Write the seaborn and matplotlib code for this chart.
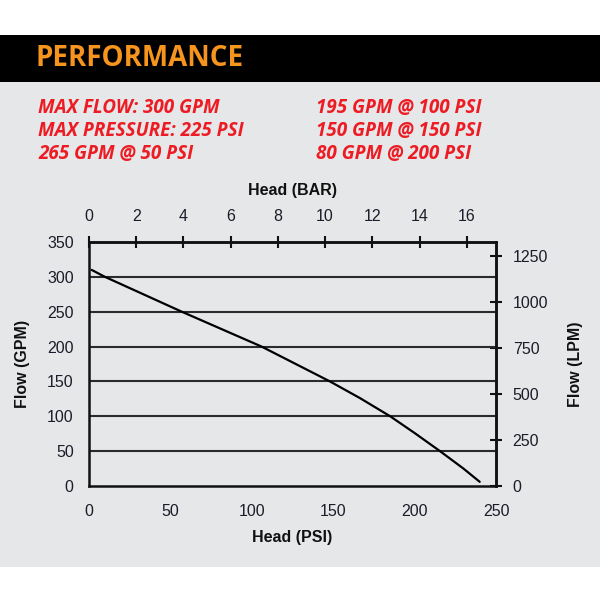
import matplotlib
matplotlib.use("Agg")
import matplotlib.pyplot as plt
import seaborn as sns
import pandas as pd
from matplotlib.patches import Rectangle

# ---- data ----
head_psi = [1.6, 9.8, 57, 106, 148, 166.5, 185, 200, 215.6, 230, 240]
flow_gpm = [310, 300, 250, 200, 150, 126, 100, 76, 50, 25, 6]

psi_ticks = [0, 50, 100, 150, 200, 250]
gpm_ticks = [0, 50, 100, 150, 200, 250, 300, 350]
bar_ticks = [0, 2, 4, 6, 8, 10, 12, 14, 16]
lpm_ticks = [0, 250, 500, 750, 1000, 1250]

title = "PERFORMANCE"
specs_left = ["MAX FLOW: 300 GPM", "MAX PRESSURE: 225 PSI", "265 GPM @ 50 PSI"]
specs_right = ["195 GPM @ 100 PSI", "150 GPM @ 150 PSI", "80 GPM @ 200 PSI"]

PSI_PER_BAR = 14.5038
LPM_PER_GPM = 3.78541

df = pd.DataFrame({"Head (PSI)": head_psi, "Flow (GPM)": flow_gpm})

sns.set_style("white")
plt.rcParams["font.family"] = ["Liberation Sans", "DejaVu Sans"]

fig = plt.figure(figsize=(6, 6), dpi=100)
fig.patch.set_facecolor("white")

W, H = 600.0, 600.0
def fy(y):
    return 1 - y / H

# gray panel and black header band
fig.patches.append(Rectangle((0, fy(567)), 1, fy(82) - fy(567), transform=fig.transFigure,
                             facecolor="#e6e7e8", edgecolor="none", zorder=-10))
fig.patches.append(Rectangle((0, fy(82)), 1, fy(35) - fy(82), transform=fig.transFigure,
                             facecolor="#000000", edgecolor="none", zorder=-10))

fig.text(36 / W, fy(59), title, color="#f7941d", fontsize=20, fontweight="bold",
         family=["Open Sans", "DejaVu Sans"], va="center", ha="left")

red = "#ed1c24"
for i, (l, r) in enumerate(zip(specs_left, specs_right)):
    y = fy(108 + i * 23)
    fig.text(38 / W, y, l, color=red, fontsize=13.6, fontweight="bold", fontstyle="italic",
             family=["Open Sans", "DejaVu Sans"], va="center", ha="left")
    fig.text(316 / W, y, r, color=red, fontsize=13.6, fontweight="bold", fontstyle="italic",
             family=["Open Sans", "DejaVu Sans"], va="center", ha="left")

ax = fig.add_axes([89 / W, fy(486), (496 - 89) / W, (486 - 242) / H])
ax.set_facecolor("none")
ax.set_zorder(5)

sns.lineplot(data=df, x="Head (PSI)", y="Flow (GPM)", ax=ax, color="black", linewidth=1.6,
             sort=False, zorder=3)

ax.set_xlim(0, 250)
ax.set_ylim(0, 350)
ax.set_xticks(psi_ticks)
ax.set_yticks(gpm_ticks)
for g in gpm_ticks[1:-1]:
    ax.axhline(g, color="#2b2b2b", linewidth=1.5, zorder=2)

for s in ax.spines.values():
    s.set_visible(True)
    s.set_color("#111111")
    s.set_linewidth(1.8)

tick_color = "#1c1c2a"
ax.tick_params(axis="both", direction="inout", length=8, width=1.5, colors="#111111",
               labelcolor=tick_color, labelsize=11.5)
ax.tick_params(axis="x", pad=9)
ax.tick_params(axis="y", pad=7)

ax.set_xlabel("Head (PSI)", fontsize=11.5, fontweight="bold", color="#111111", labelpad=8)
ax.set_ylabel("Flow (GPM)", fontsize=11.5, fontweight="bold", color="#111111", labelpad=12)

top = ax.secondary_xaxis("top", functions=(lambda p: p / PSI_PER_BAR, lambda b: b * PSI_PER_BAR))
top.set_xticks(bar_ticks)
top.tick_params(direction="inout", length=8, width=1.5, colors="#111111",
                labelcolor=tick_color, labelsize=11.5, pad=9)
top.set_xlabel("Head (BAR)", fontsize=11.5, fontweight="bold", color="#111111", labelpad=10)

right = ax.secondary_yaxis("right", functions=(lambda g: g * LPM_PER_GPM, lambda l: l / LPM_PER_GPM))
right.set_yticks(lpm_ticks)
right.tick_params(direction="inout", length=8, width=1.5, colors="#111111",
                  labelcolor=tick_color, labelsize=11.5, pad=8)
right.set_ylabel("Flow (LPM)", fontsize=11.5, fontweight="bold", color="#111111", labelpad=14)
for s in list(top.spines.values()) + list(right.spines.values()):
    s.set_linewidth(1.8)
    s.set_color("#111111")

fig.savefig("out.png", dpi=100, facecolor=fig.get_facecolor())
